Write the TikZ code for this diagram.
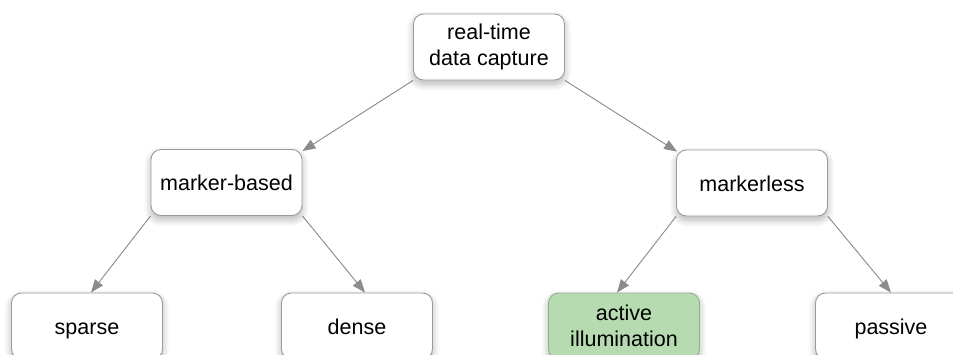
\documentclass[tikz,border=0pt]{standalone}
\usepackage{fontspec}
\setmainfont{Liberation Sans}
\usetikzlibrary{arrows.meta,calc,backgrounds,shadows.blur}
\definecolor{boxline}{HTML}{9A9A9A}
\definecolor{arrowgray}{HTML}{8C8C8C}
\definecolor{greenfill}{HTML}{B6DBB0}
\definecolor{greenline}{HTML}{8FB089}
\tikzset{
  box/.style={draw=boxline, line width=0.9pt, fill=white, rounded corners=10pt,
    minimum width=151pt, minimum height=66pt, inner sep=0pt, align=center,
    font=\fontsize{21.5}{26}\selectfont,
    blur shadow={shadow xshift=0pt, shadow yshift=-4pt, shadow blur radius=7pt, shadow opacity=30, shadow blur steps=12}},
  oneline/.style={box, text height=18pt, text depth=2pt},
  greenbox/.style={box, fill=greenfill, draw=greenline},
  conn/.style={draw=arrowgray, line width=0.9pt, -{Triangle[length=13pt,width=10pt]}, fill=arrowgray}
}
\begin{document}
\begin{tikzpicture}[x=1pt,y=-1pt]
\useasboundingbox (0,0) rectangle (953,354);
\node[box] (top) at (489,47) {real-time\\data capture};
\node[oneline] (mb) at (226.5,182.5) {marker-based};
\node[oneline] (ml) at (752,183) {markerless};
\node[oneline] (sparse) at (87,326) {sparse};
\node[oneline] (dense) at (357,326) {dense};
\node[greenbox] (active) at (624,326) {active\\illumination};
\node[oneline] (passive) at (891,326) {passive};
\begin{scope}[on background layer]
\draw[conn] (top.south west) -- ($(mb.north east)+(0,2)$);
\draw[conn] (top.south east) -- ($(ml.north west)+(1,2)$);
\draw[conn] (mb.south west) -- ($(sparse.north)+(4,0)$);
\draw[conn] (mb.south east) -- ($(dense.north)+(8,0)$);
\draw[conn] (ml.south west) -- ($(active.north)+(-7,0)$);
\draw[conn] (ml.south east) -- ($(passive.north)+(0,0)$);
\end{scope}
\end{tikzpicture}
\end{document}
